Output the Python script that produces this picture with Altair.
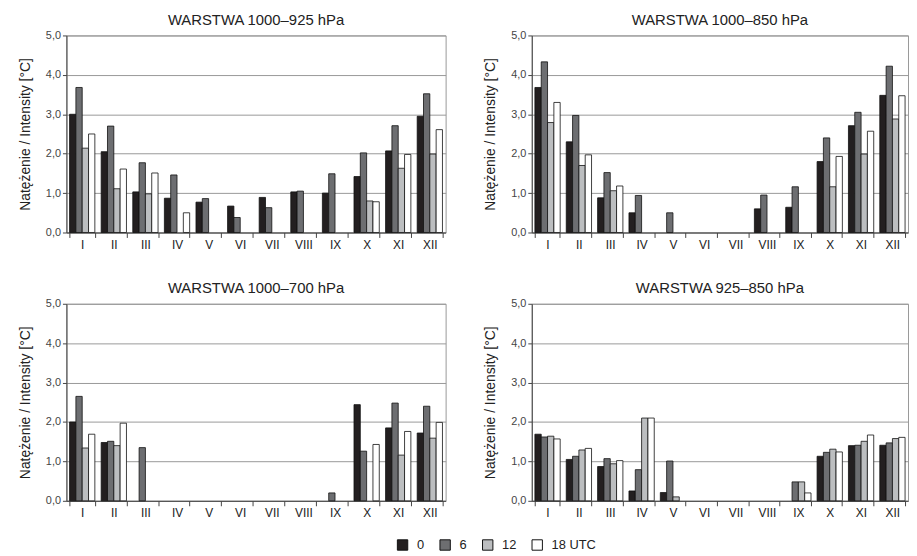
import altair as alt
import pandas as pd

months = ["I", "II", "III", "IV", "V", "VI", "VII", "VIII", "IX", "X", "XI", "XII"]
hours = ["0", "6", "12", "18 UTC"]
colors = ["#231f20", "#6d6e71", "#bcbec0", "#ffffff"]

titles = ["WARSTWA 1000–925 hPa", "WARSTWA 1000–850 hPa",
          "WARSTWA 1000–700 hPa", "WARSTWA 925–850 hPa"]

# values per hour (0, 6, 12, 18 UTC); None = no bar
p1_h0 = [3.00, 2.05, 1.03, 0.87, 0.77, 0.67, 0.89, 1.03, 1.00, 1.42, 2.07, 2.95]
p1_h6 = [3.68, 2.70, 1.77, 1.46, 0.86, 0.38, 0.63, 1.05, 1.49, 2.02, 2.71, 3.52]
p1_h12 = [2.14, 1.11, 0.98, None, None, None, None, None, None, 0.80, 1.63, 1.99]
p1_h18 = [2.50, 1.61, 1.51, 0.50, None, None, None, None, None, 0.78, 1.98, 2.61]

p2_h0 = [3.68, 2.30, 0.88, 0.50, None, None, None, 0.60, 0.64, 1.80, 2.71, 3.48]
p2_h6 = [4.33, 2.97, 1.52, 0.94, 0.50, None, None, 0.95, 1.16, 2.40, 3.05, 4.22]
p2_h12 = [2.79, 1.70, 1.06, None, None, None, None, None, None, 1.16, 1.99, 2.88]
p2_h18 = [3.30, 1.97, 1.18, None, None, None, None, None, None, 1.93, 2.57, 3.47]

p3_h0 = [2.00, 1.48, None, None, None, None, None, None, None, 2.44, 1.85, 1.72]
p3_h6 = [2.65, 1.51, 1.35, None, None, None, None, None, 0.20, 1.26, 2.48, 2.40]
p3_h12 = [1.34, 1.40, None, None, None, None, None, None, None, None, 1.16, 1.59]
p3_h18 = [1.69, 1.97, None, None, None, None, None, None, None, 1.43, 1.76, 1.99]

p4_h0 = [1.69, 1.05, 0.87, 0.25, 0.21, None, None, None, None, 1.13, 1.40, 1.41]
p4_h6 = [1.62, 1.13, 1.07, 0.79, 1.01, None, None, None, 0.48, 1.23, 1.41, 1.47]
p4_h12 = [1.64, 1.29, 0.94, 2.10, 0.10, None, None, None, 0.48, 1.31, 1.51, 1.58]
p4_h18 = [1.57, 1.33, 1.02, 2.10, None, None, None, None, 0.20, 1.24, 1.67, 1.61]

panels = [
    [p1_h0, p1_h6, p1_h12, p1_h18],
    [p2_h0, p2_h6, p2_h12, p2_h18],
    [p3_h0, p3_h6, p3_h12, p3_h18],
    [p4_h0, p4_h6, p4_h12, p4_h18],
]
widths = [383, 380, 383, 380]

FONT = "Liberation Sans"


def make_panel(series, title, w):
    rows = []
    for h, vals in zip(hours, series):
        for m, v in zip(months, vals):
            if v is not None:
                rows.append({"month": m, "hour": h, "value": v})
    df = pd.DataFrame(rows)
    return alt.Chart(df, title=alt.TitleParams(title, fontSize=15, font=FONT,
                                               fontWeight="normal", color="#222",
                                               offset=2)).mark_bar(
        stroke="#111", strokeWidth=0.8
    ).encode(
        x=alt.X("month:N", sort=months,
                scale=alt.Scale(domain=months, paddingInner=0.2, paddingOuter=0.1),
                axis=alt.Axis(title=None, labelAngle=0, tickBand="extent",
                              labelFontSize=12, labelColor="#222",
                              domainColor="#444", tickColor="#444", tickSize=5,
                              labelPadding=2)),
        xOffset=alt.XOffset("hour:N", sort=hours, scale=alt.Scale(domain=hours)),
        y=alt.Y("value:Q", scale=alt.Scale(domain=[0, 5]),
                axis=alt.Axis(title="Natężenie / Intensity [°C]", values=[0, 1, 2, 3, 4, 5],
                              labelExpr="replace(format(datum.value, '.1f'), '.', ',')",
                              titleFontSize=14, titleFontWeight="normal", titleColor="#222",
                              titlePadding=13, labelFontSize=11, labelColor="#444",
                              domainColor="#444", tickColor="#444", tickSize=4,
                              gridColor="#999", gridWidth=1)),
        color=alt.Color("hour:N", sort=hours,
                        scale=alt.Scale(domain=hours, range=colors),
                        legend=alt.Legend(title=None, orient="none", direction="horizontal",
                                          legendX=333, legendY=508,
                                          symbolType="square", symbolSize=110,
                                          symbolStrokeColor="#111", symbolStrokeWidth=1,
                                          labelFontSize=13, labelColor="#222",
                                          columnPadding=13, labelOffset=8)),
    ).properties(width=w, height=199)


charts = [make_panel(s, t, w) for s, t, w in zip(panels, titles, widths)]
top = alt.hconcat(charts[0], charts[1], spacing=37)
bottom = alt.hconcat(charts[2], charts[3], spacing=37)
chart = alt.vconcat(top, bottom, spacing=29).configure(
    font=FONT
).configure_view(
    stroke="#999", strokeWidth=1
).configure_legend(
    symbolStrokeColor="#111", labelFont=FONT
).properties(padding={"left": 10, "top": 1, "right": 0, "bottom": 0})

chart.save("out.html", embed_options={"renderer": "svg", "actions": False})
